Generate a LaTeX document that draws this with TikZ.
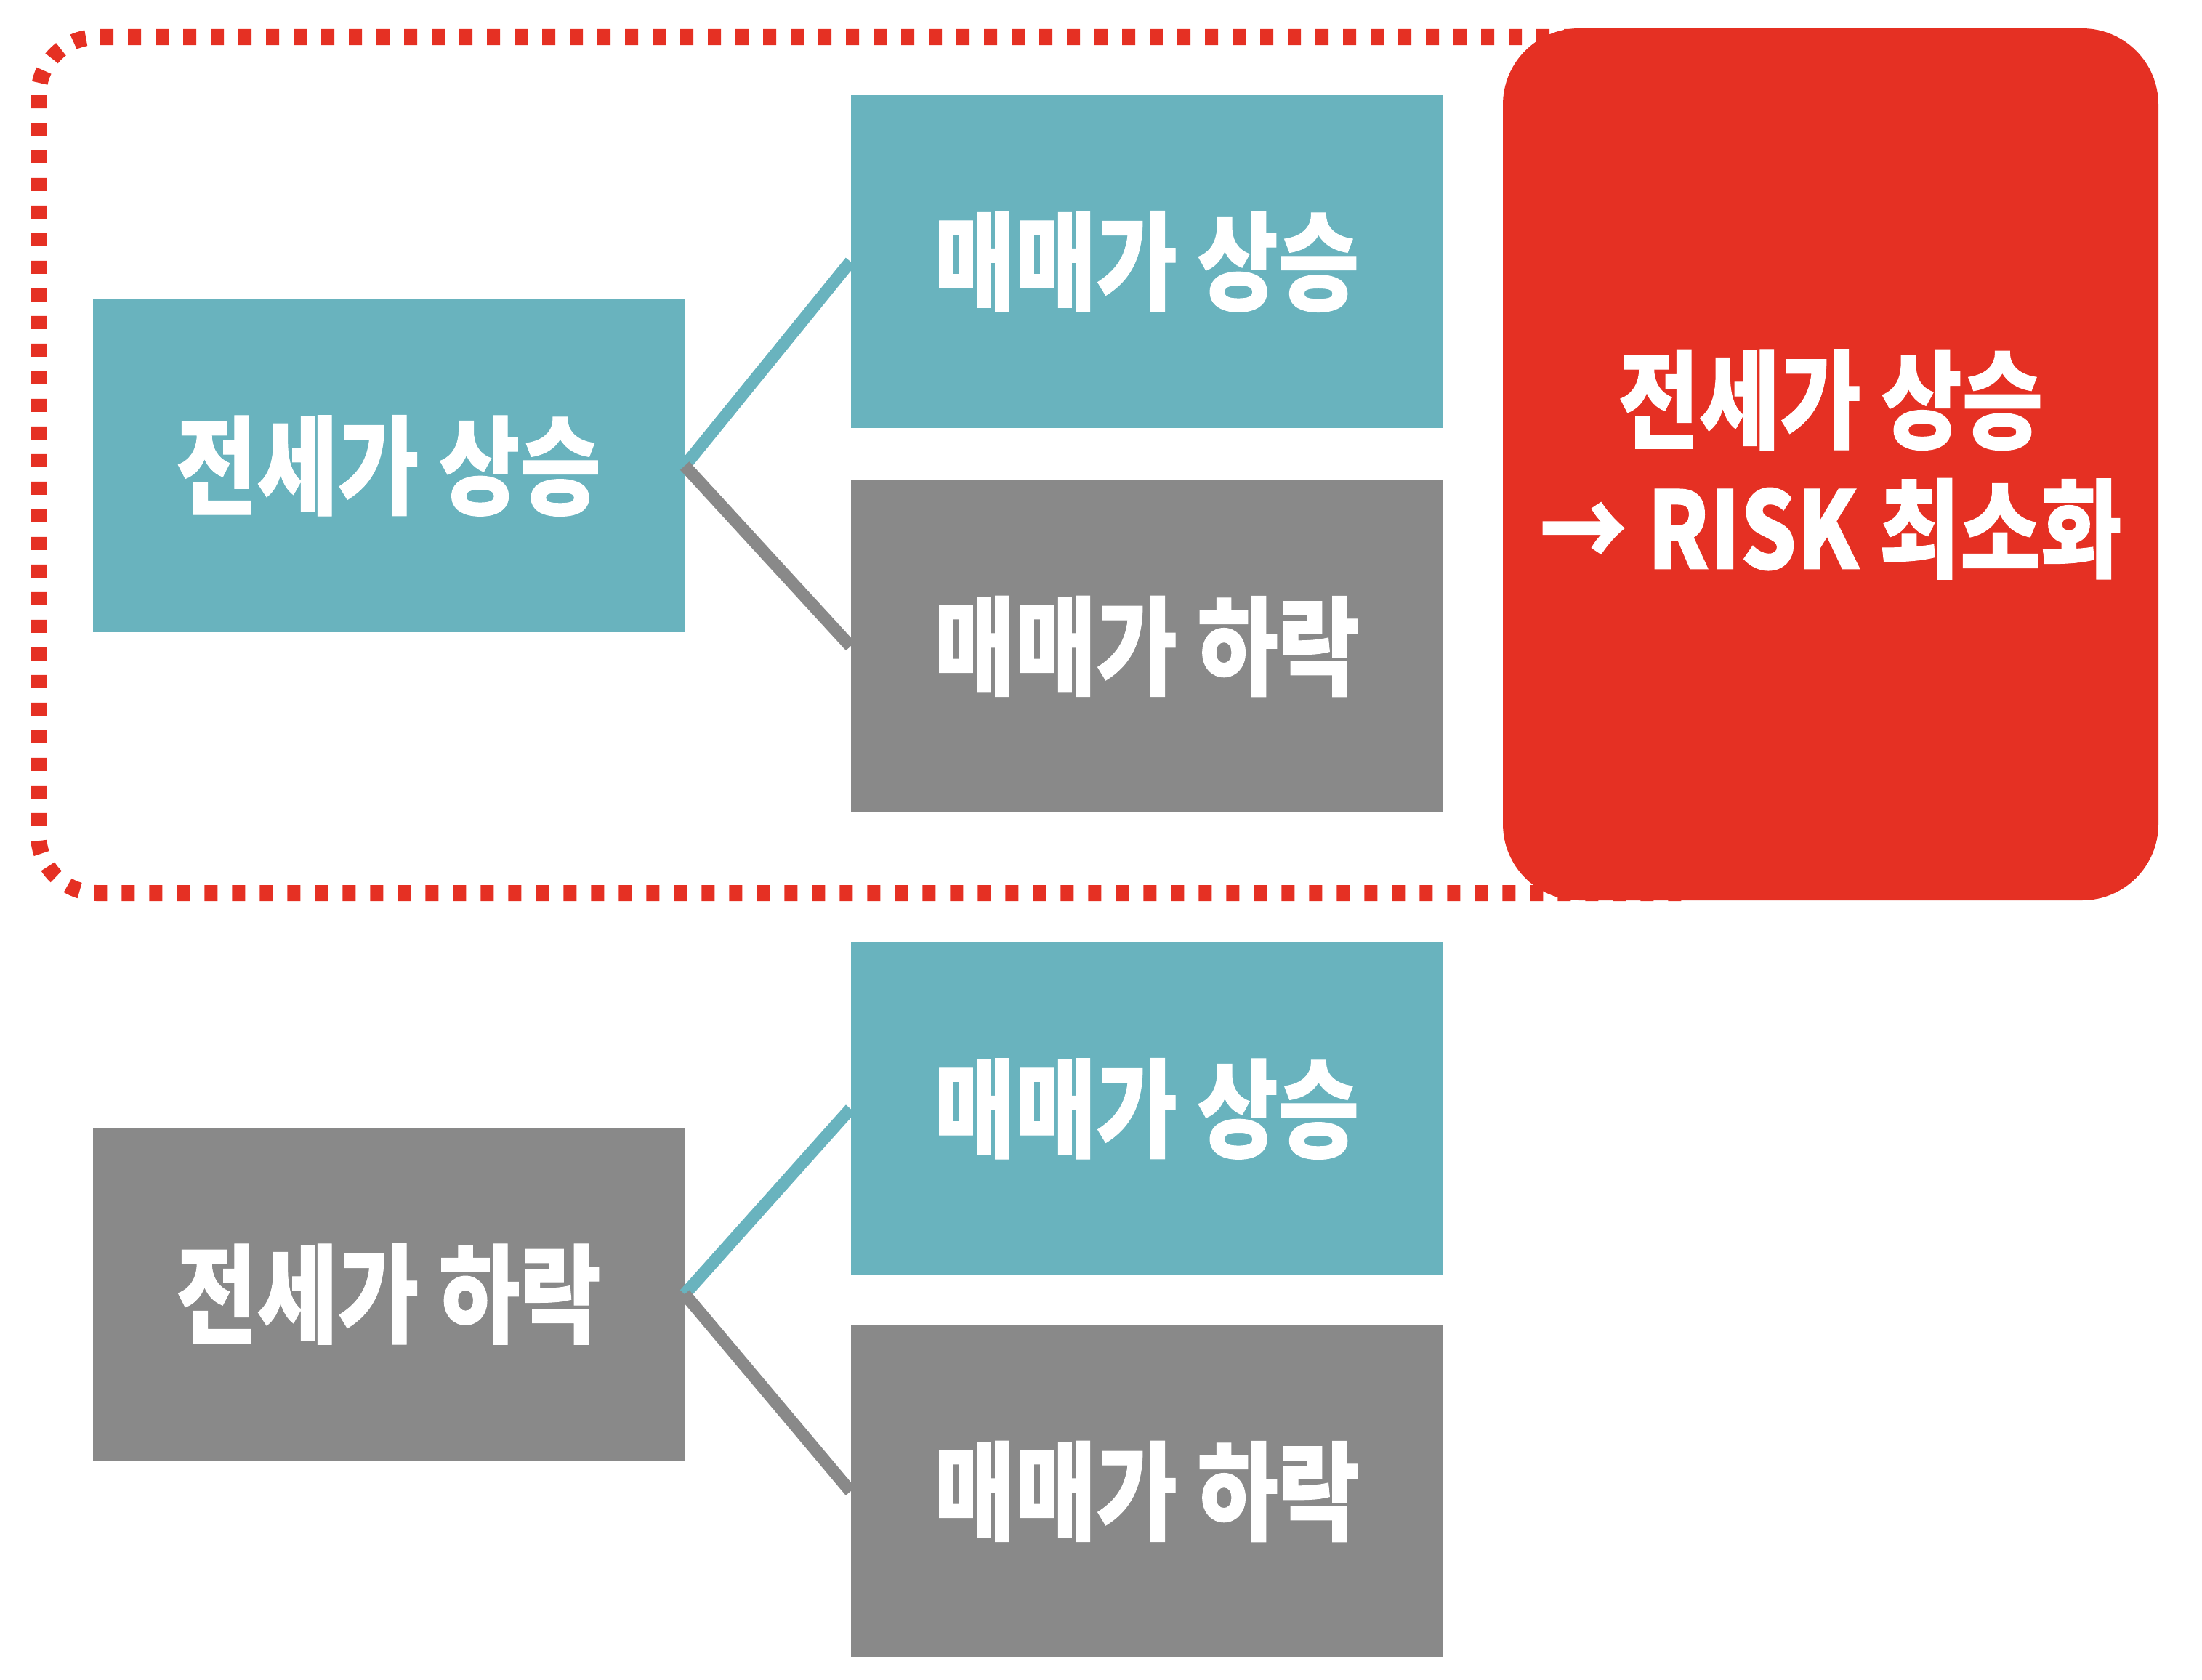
\documentclass[tikz,border=0pt]{standalone}
\usepackage{fontspec}
\usepackage{xcolor}
\usetikzlibrary{positioning}
\newfontfamily\kor{Noto Sans CJK KR}[FakeStretch=0.82, FakeBold=0.7]
\definecolor{tealbox}{HTML}{69B3BE}
\definecolor{graybox}{HTML}{898989}
\definecolor{riskred}{HTML}{E53023}

\begin{document}
\begin{tikzpicture}[
        box/.style={rectangle, minimum width=8.14cm, minimum height=4.58cm, inner sep=0pt, text=white, font=\kor\bfseries\fontsize{42}{50}\selectfont},
        upbox/.style={box, fill=tealbox},
        downbox/.style={box, fill=graybox},
        riskbox/.style={rectangle, fill=riskred, rounded corners=1.05cm, minimum width=9.02cm, minimum height=12cm, text=white, align=center, font=\kor\bfseries\fontsize{42}{50.5}\selectfont},
        upline/.style={line width=0.17cm, color=tealbox},
        downline/.style={line width=0.17cm, color=graybox},
        scenario/.style={draw=riskred, line width=0.22cm, dash pattern=on 0.18cm off 0.2cm, rounded corners=0.8cm}
    ]
        \useasboundingbox (0,0) rectangle (30.30,-23.12);

        % scenario frame behind the red box
        \draw[scenario] (0.53,-0.51) rectangle (24.0,-12.29);

        \node[upbox] (jeonseUp) at (5.345,-6.41) {전세가 상승};
        \node[upbox] (maemaeUpA) at (15.78,-3.60) {매매가 상승};
        \node[downbox, below=0.7cm of {maemaeUpA}] (maemaeDownA) {매매가 하락};

        \node[downbox] (jeonseDown) at (5.345,-17.81) {전세가 하락};
        \node[upbox] (maemaeUpB) at (15.78,-15.26) {매매가 상승};
        \node[downbox, below=0.67cm of {maemaeUpB}] (maemaeDownB) {매매가 하락};

        \node[riskbox] (risk) at (25.19,-6.39) {전세가 상승\\→ RISK 최소화};

        \draw[upline] (jeonseUp.east) -- (maemaeUpA.west);
        \draw[downline] (jeonseUp.east) -- (maemaeDownA.west);
        \draw[upline] (jeonseDown.east) -- (maemaeUpB.west);
        \draw[downline] (jeonseDown.east) -- (maemaeDownB.west);
    \end{tikzpicture}
\end{document}
